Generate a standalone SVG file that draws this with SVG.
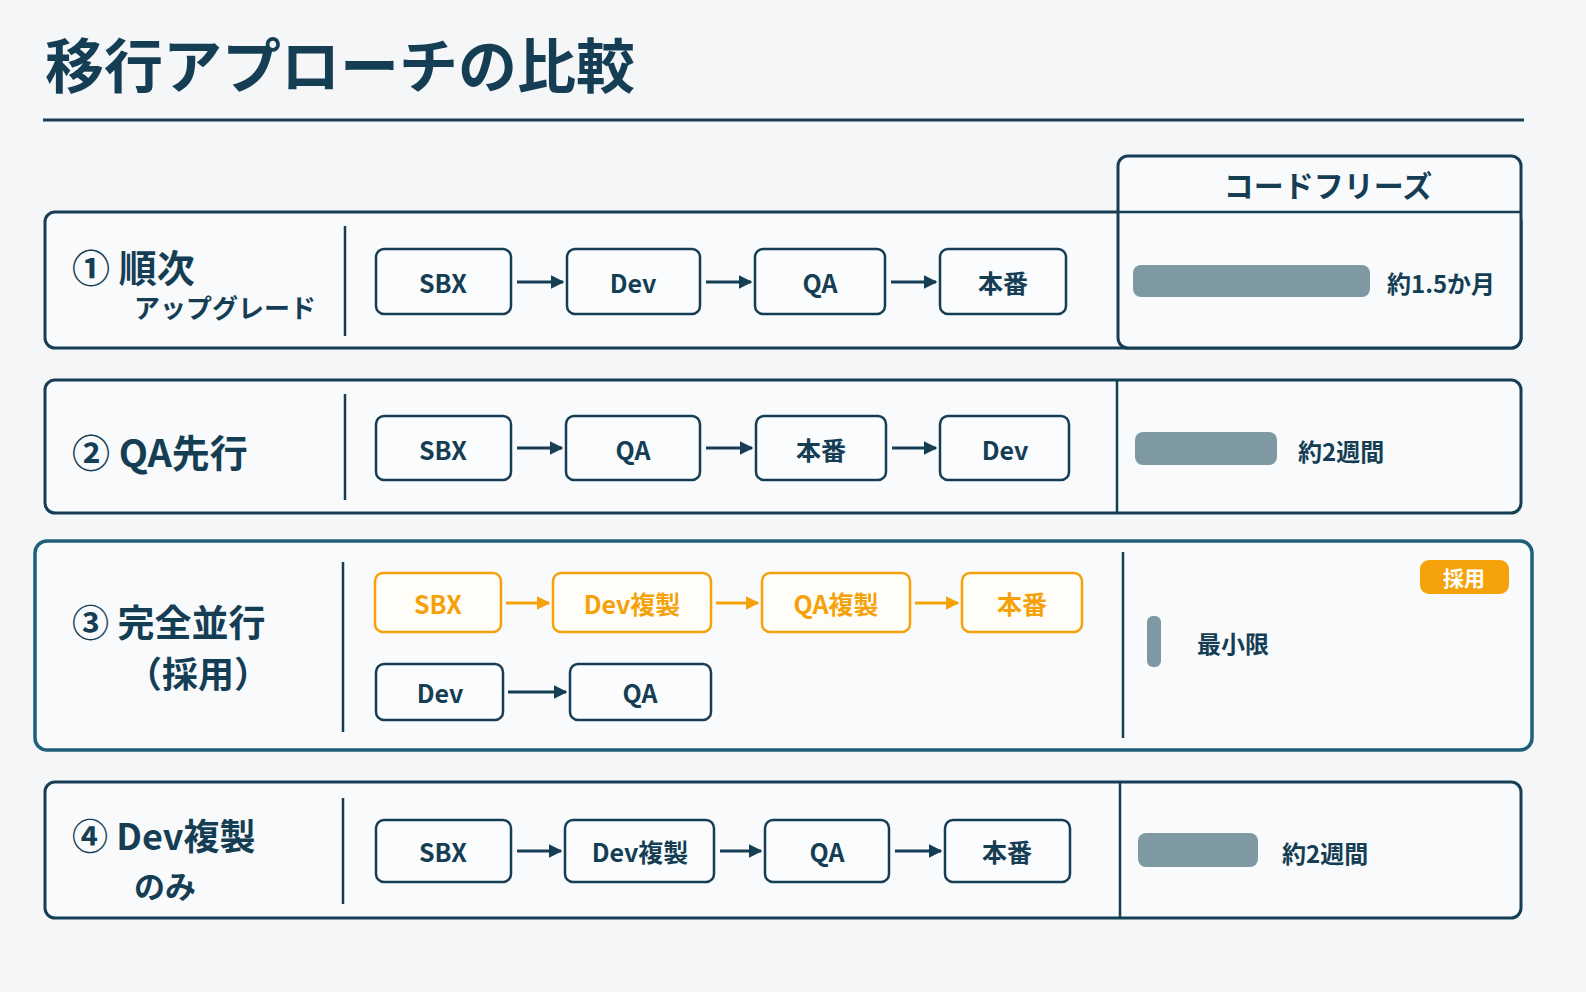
<svg xmlns="http://www.w3.org/2000/svg" width="1586" height="992" viewBox="0 0 1586 992">
<style>
text{font-family:"Noto Sans CJK JP","Noto Sans",sans-serif;font-weight:700;fill:#153e54}
.frame{fill:#f8fafc;stroke:#153e54;stroke-width:3}
.div{stroke:#153e54;stroke-width:2.5}
.n rect{fill:#fafcfd;stroke:#153e54;stroke-width:2.5}
.n text{font-size:25px;text-anchor:middle;dominant-baseline:central}
.o rect{fill:#fffdf8;stroke:#f5a20a;stroke-width:2.5}
.o text{fill:#f5a20a;font-size:25px;text-anchor:middle;dominant-baseline:central}
.bar{fill:#7f99a2}
.lbl{font-size:24px;dominant-baseline:central}
.c line{stroke:#153e54;stroke-width:3;marker-end:url(#a)}
.c line.or{stroke:#f5a20a;marker-end:url(#ao)}
</style>
<defs>
<marker id="a" viewBox="0 0 10 10" refX="9" refY="5" markerWidth="4.5" markerHeight="4.5" orient="auto"><path d="M0,0L10,5L0,10z" fill="#153e54"/></marker>
<marker id="ao" viewBox="0 0 10 10" refX="9" refY="5" markerWidth="4.5" markerHeight="4.5" orient="auto"><path d="M0,0L10,5L0,10z" fill="#f5a20a"/></marker>
</defs>
<rect width="1586" height="992" fill="#f4f6f8"/>
<text x="45" y="88" font-size="59">移行アプローチの比較</text>
<line x1="43" y1="120" x2="1524" y2="120" stroke="#153e54" stroke-width="3"/>

<g id="row1">
<rect class="frame" x="45" y="212" width="1476" height="136" rx="10"/>
<rect class="frame" x="1118" y="156" width="403" height="192" rx="10"/>
<line class="div" x1="1118" y1="212" x2="1521" y2="212"/>
<text x="1328" y="184" font-size="30" text-anchor="middle" dominant-baseline="central">コードフリーズ</text>
<line class="div" x1="345" y1="226" x2="345" y2="336"/>
<text x="72" y="282" font-size="38">① 順次</text>
<text x="134" y="318" font-size="26">アップグレード</text>
<rect class="bar" x="1133" y="265" width="237" height="32" rx="8"/>
<text class="lbl" x="1387" y="282">約1.5か月</text>
</g>
<g id="r1n1" class="n"><rect x="376" y="249" width="135" height="65" rx="8"/><text x="443" y="282">SBX</text></g>
<g id="r1n2" class="n"><rect x="567" y="249" width="133" height="65" rx="8"/><text x="633" y="282">Dev</text></g>
<g id="r1n3" class="n"><rect x="755" y="249" width="130" height="65" rx="8"/><text x="820" y="282">QA</text></g>
<g id="r1n4" class="n"><rect x="940" y="249" width="126" height="65" rx="8"/><text x="1003" y="282">本番</text></g>

<g id="row2">
<rect class="frame" x="45" y="380" width="1476" height="133" rx="10"/>
<line class="div" x1="345" y1="394" x2="345" y2="500"/>
<line class="div" x1="1117" y1="380" x2="1117" y2="513"/>
<text x="72" y="450" font-size="38" dominant-baseline="central">② QA先行</text>
<rect class="bar" x="1135" y="432" width="142" height="33" rx="8"/>
<text class="lbl" x="1298" y="450">約2週間</text>
</g>
<g id="r2n1" class="n"><rect x="376" y="416" width="135" height="64" rx="8"/><text x="443" y="449">SBX</text></g>
<g id="r2n2" class="n"><rect x="566" y="416" width="134" height="64" rx="8"/><text x="633" y="449">QA</text></g>
<g id="r2n3" class="n"><rect x="756" y="416" width="130" height="64" rx="8"/><text x="821" y="449">本番</text></g>
<g id="r2n4" class="n"><rect x="940" y="416" width="129" height="64" rx="8"/><text x="1005" y="449">Dev</text></g>

<g id="row3">
<rect x="35" y="541" width="1497" height="209" rx="12" fill="#f8fafc" stroke="#1e5f7b" stroke-width="3.5"/>
<line class="div" x1="343" y1="562" x2="343" y2="732"/>
<line class="div" x1="1123" y1="552" x2="1123" y2="738"/>
<text x="72" y="621" font-size="37" dominant-baseline="central">③ 完全並行</text>
<text x="126" y="672" font-size="36" dominant-baseline="central">（採用）</text>
<rect class="bar" x="1147" y="616" width="14" height="51" rx="6"/>
<text class="lbl" x="1197" y="642">最小限</text>
<rect x="1420" y="560" width="89" height="34" rx="9" fill="#f5a20a"/>
<text x="1464" y="577" font-size="21" style="fill:#fff" text-anchor="middle" dominant-baseline="central">採用</text>
</g>
<g id="r3n1" class="o"><rect x="375" y="573" width="126" height="59" rx="8"/><text x="438" y="603">SBX</text></g>
<g id="r3n2" class="o"><rect x="553" y="573" width="158" height="59" rx="8"/><text x="632" y="603">Dev複製</text></g>
<g id="r3n3" class="o"><rect x="762" y="573" width="148" height="59" rx="8"/><text x="836" y="603">QA複製</text></g>
<g id="r3n4" class="o"><rect x="962" y="573" width="120" height="59" rx="8"/><text x="1022" y="603">本番</text></g>
<g id="r3n5" class="n"><rect x="376" y="664" width="127" height="56" rx="8"/><text x="440" y="692">Dev</text></g>
<g id="r3n6" class="n"><rect x="570" y="664" width="141" height="56" rx="8"/><text x="640" y="692">QA</text></g>

<g id="row4">
<rect class="frame" x="45" y="782" width="1476" height="136" rx="10"/>
<line class="div" x1="343" y1="798" x2="343" y2="904"/>
<line class="div" x1="1120" y1="782" x2="1120" y2="918"/>
<text x="72" y="834" font-size="36" dominant-baseline="central">④ Dev複製</text>
<text x="134" y="884" font-size="31" dominant-baseline="central">のみ</text>
<rect class="bar" x="1138" y="833" width="120" height="34" rx="8"/>
<text class="lbl" x="1282" y="852">約2週間</text>
</g>
<g id="r4n1" class="n"><rect x="376" y="820" width="135" height="62" rx="8"/><text x="443" y="851">SBX</text></g>
<g id="r4n2" class="n"><rect x="565" y="820" width="149" height="62" rx="8"/><text x="640" y="851">Dev複製</text></g>
<g id="r4n3" class="n"><rect x="765" y="820" width="124" height="62" rx="8"/><text x="827" y="851">QA</text></g>
<g id="r4n4" class="n"><rect x="945" y="820" width="125" height="62" rx="8"/><text x="1007" y="851">本番</text></g>

<g id="connectors" class="c">
<line x1="517" y1="282" x2="563" y2="282"/>
<line x1="706" y1="282" x2="751" y2="282"/>
<line x1="891" y1="282" x2="936" y2="282"/>
<line x1="517" y1="448" x2="562" y2="448"/>
<line x1="706" y1="448" x2="752" y2="448"/>
<line x1="892" y1="448" x2="936" y2="448"/>
<line class="or" x1="506" y1="603" x2="549" y2="603"/>
<line class="or" x1="716" y1="603" x2="758" y2="603"/>
<line class="or" x1="915" y1="603" x2="958" y2="603"/>
<line x1="508" y1="692" x2="566" y2="692"/>
<line x1="517" y1="851" x2="561" y2="851"/>
<line x1="720" y1="851" x2="761" y2="851"/>
<line x1="895" y1="851" x2="941" y2="851"/>
</g>
</svg>
